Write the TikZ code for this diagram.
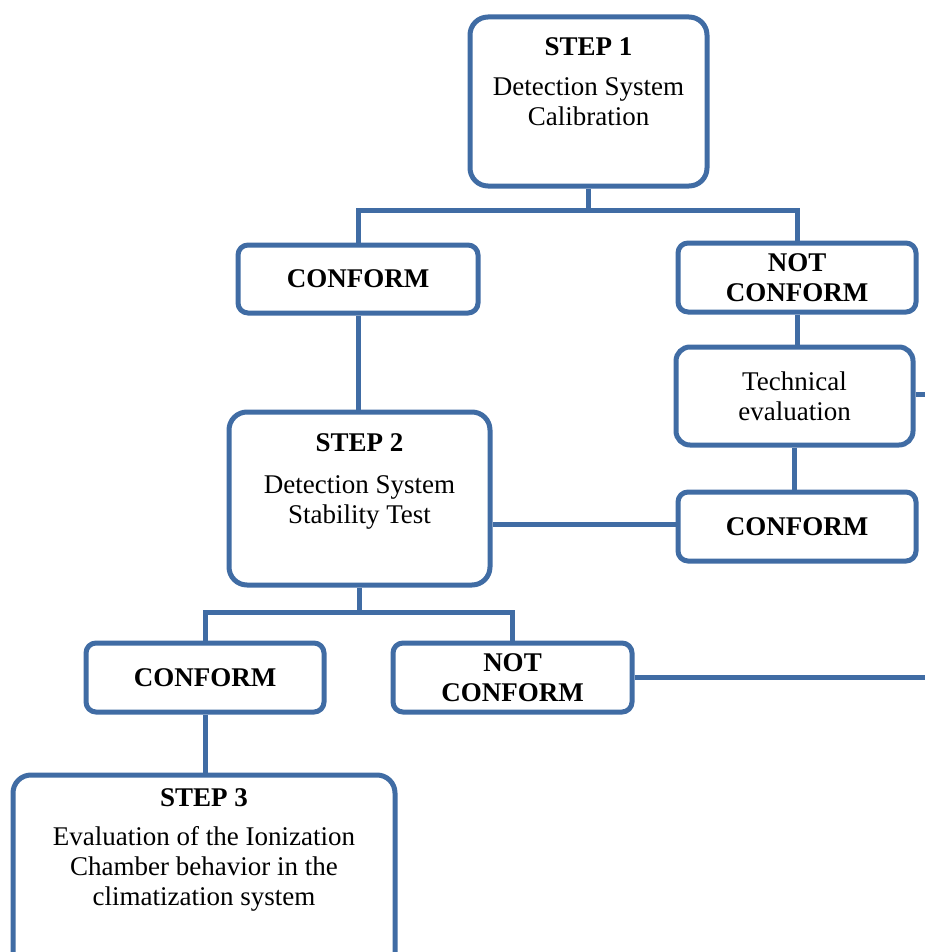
\documentclass[tikz,border=0pt]{standalone}
\usepackage{fontspec}
\setmainfont{Liberation Serif}
\definecolor{boxblue}{RGB}{64,108,164}
\begin{document}
\begin{tikzpicture}[x=1pt,y=-1pt,
  box/.style={draw=boxblue, line width=5pt, rounded corners=18pt, inner sep=0pt, fill=white},
  sbox/.style={draw=boxblue, line width=5pt, rounded corners=10pt, inner sep=0pt, fill=white,
    align=center, font={\fontsize{27}{30}\selectfont\bfseries}},
  tbox/.style={box, align=center, font={\fontsize{27}{30}\selectfont}},
  txt/.style={anchor=north, inner sep=0pt, align=center, font={\fontsize{27}{30}\selectfont}},
  conn/.style={draw=boxblue, line width=5pt}]
\useasboundingbox (0,0) rectangle (925,952);
\clip (0,0) rectangle (925,952);
% boxes
\node[box, minimum width=237pt, minimum height=169pt] (s1) at (588.5,101.5) {};
\node[txt] (s1t) at ([yshift=-23pt]s1.north) {\textbf{STEP 1}\\[10pt]Detection System\\Calibration};
\node[sbox, minimum width=240pt, minimum height=68pt] (c1) at (358,279) {CONFORM};
\node[sbox, minimum width=238pt, minimum height=69pt] (n1) at (797,277.5) {NOT\\CONFORM};
\node[tbox, rounded corners=14pt, minimum width=237pt, minimum height=98pt] (te) at (794.5,396) {Technical\\evaluation};
\node[sbox, minimum width=238pt, minimum height=69pt] (c2) at (797,526.5) {CONFORM};
\node[box, minimum width=261pt, minimum height=173pt] (s2) at (359.5,498.5) {};
\node[txt] (s2t) at ([yshift=-24pt]s2.north) {\textbf{STEP 2}\\[12pt]Detection System\\Stability Test};
\node[sbox, minimum width=238pt, minimum height=69pt] (c3) at (205,677.5) {CONFORM};
\node[sbox, minimum width=239pt, minimum height=69pt] (n3) at (512.5,677.5) {NOT\\CONFORM};
\node[box, minimum width=382pt, minimum height=200pt] (s3) at (204,875) {};
\node[txt] (s3t) at ([yshift=-16pt]s3.north) {\textbf{STEP 3}\\[9pt]Evaluation of the Ionization\\Chamber behavior in the\\climatization system};
% junctions and free ends
\coordinate (j1) at (588,210);
\coordinate (j2) at (360,612);
\coordinate (e1) at (930,394);
\coordinate (e2) at (930,677.5);
% connectors
\draw[conn] (s1.south) -- (s1.south |- j1);
\draw[conn] (c1.north) -- (c1.north |- j1) -- (n1.north |- j1) -- (n1.north);
\draw[conn] (n1.south) -- (n1.south |- te.north);
\draw[conn] (te.east |- e1) -- (e1);
\draw[conn] (te.south) -- (te.south |- c2.north);
\draw[conn] (c2.west |- 0,524) -- (s2.east |- 0,524);
\draw[conn] (c1.south) -- (c1.south |- s2.north);
\draw[conn] (s2.south) -- (s2.south |- j2);
\draw[conn] (c3.north) -- (c3.north |- j2) -- (n3.north |- j2) -- (n3.north);
\draw[conn] (n3.east) -- (e2);
\draw[conn] (c3.south) -- (c3.south |- s3.north);
\end{tikzpicture}
\end{document}
